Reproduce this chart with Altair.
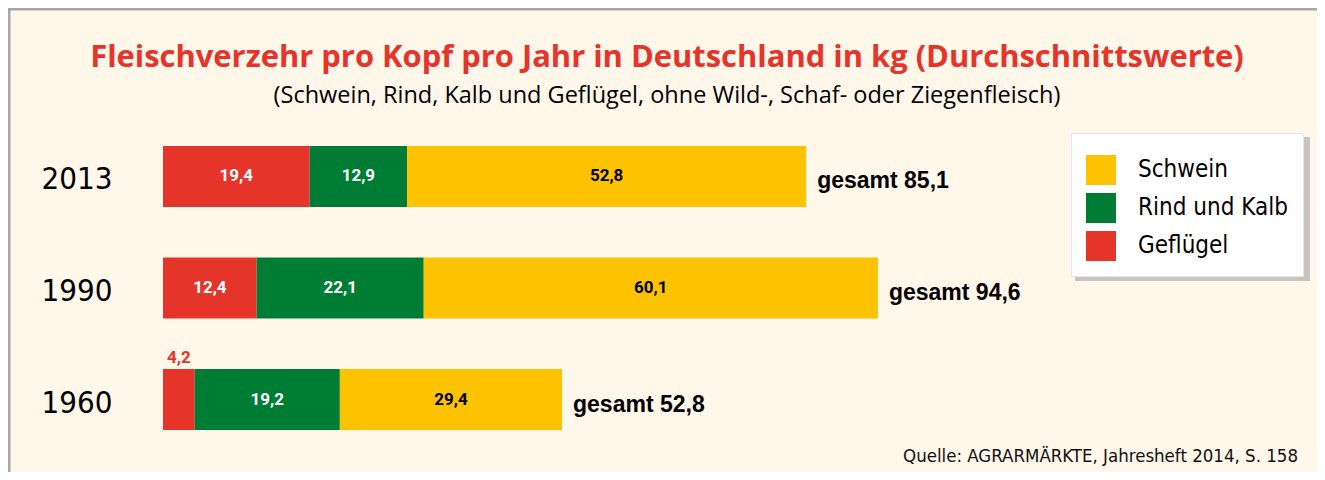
import altair as alt
import pandas as pd

# ---- data ----
years = ["2013", "1990", "1960"]
categories = ["Geflügel", "Rind und Kalb", "Schwein"]
gefluegel = [19.4, 12.4, 4.2]
rind_kalb = [12.9, 22.1, 19.2]
schwein = [52.8, 60.1, 29.4]
totals = [85.1, 94.6, 52.8]
legend_order = ["Schwein", "Rind und Kalb", "Geflügel"]
colors = ["#FDC300", "#007D34", "#E5352A"]
source_text = "Quelle: AGRARMÄRKTE, Jahresheft 2014, S. 158"
title_text = "Fleischverzehr pro Kopf pro Jahr in Deutschland in kg (Durchschnittswerte)"
subtitle_text = "(Schwein, Rind, Kalb und Geflügel, ohne Wild-, Schaf- oder Ziegenfleisch)"


def de(v):
    return f"{v:.1f}".replace(".", ",")


rows = []
for i, y in enumerate(years):
    start = 0.0
    for k, (cat, vals) in enumerate(zip(categories, [gefluegel, rind_kalb, schwein])):
        v = vals[i]
        rows.append(dict(year=y, cat=cat, value=v, start=start, end=start + v,
                         mid=start + v / 2, label=de(v), order=k,
                         tcolor="#000000" if cat == "Schwein" else "#FFFFFF",
                         small=v < 6))
        start += v
df = pd.DataFrame(rows)
tot = pd.DataFrame(dict(year=years, total=totals,
                        label=["gesamt " + de(t) for t in totals]))

COND = "DejaVu Sans Condensed, DejaVu Sans, sans-serif"
VALF = "Roboto, sans-serif"
WIDE = "Liberation Sans, Arial, sans-serif"

W, H = 1154, 284
xscale = alt.Scale(domain=[0, 152.7], nice=False, zero=False)
yscale = alt.Scale(domain=years, paddingInner=0.453, paddingOuter=0)

base = alt.Chart(df)

bars = base.mark_rect().encode(
    x=alt.X("start:Q", scale=xscale, axis=None),
    x2="end:Q",
    y=alt.Y("year:N", scale=yscale, sort=years,
            axis=alt.Axis(title=None, domain=False, ticks=False, labelFont=COND,
                          labelFontSize=31, labelColor="#000", labelAlign="right",
                          labelPadding=51, labelOffset=4)),
    color=alt.Color("cat:N", scale=alt.Scale(domain=legend_order, range=colors),
                    legend=alt.Legend(title=" ", titleFontSize=2, titlePadding=5,
                                      orient="none", legendX=908, legendY=-13,
                                      direction="vertical", symbolType="square",
                                      symbolSize=900, symbolStrokeWidth=0,
                                      labelFont=COND, labelFontSize=24,
                                      labelColor="#000", labelOffset=22,
                                      labelLimit=300,
                                      rowPadding=8, padding=15, fillColor="#FFFFFF",
                                      strokeColor="#E6E6E6",
                                      symbolOpacity=1)),
    order="order:Q",
)

inner = base.transform_filter("!datum.small").mark_text(
    font=VALF, fontSize=17, fontWeight="bold", baseline="middle", align="center"
).encode(
    x=alt.X("mid:Q", scale=xscale),
    y=alt.Y("year:N", scale=yscale, sort=years),
    text="label:N",
    color=alt.Color("tcolor:N", scale=None),
)

outer = base.transform_filter("datum.small").mark_text(
    font=VALF, fontSize=17, fontWeight="bold", baseline="alphabetic", align="center",
    color="#E5352A", dy=-6
).encode(
    x=alt.X("mid:Q", scale=xscale),
    y=alt.Y("year:N", scale=yscale, sort=years, bandPosition=0),
    text="label:N",
)

total_text = alt.Chart(tot).mark_text(
    font=WIDE, fontSize=23, fontWeight="bold", baseline="middle", align="left",
    dx=11, dy=5, color="#000"
).encode(
    x=alt.X("total:Q", scale=xscale),
    y=alt.Y("year:N", scale=yscale, sort=years),
    text="label:N",
)

source = alt.Chart(pd.DataFrame(dict(t=[source_text]))).mark_text(
    font=COND, fontSize=18.5, align="right", baseline="alphabetic", color="#111"
).encode(x=alt.value(1135), y=alt.value(316), text="t:N")

shadow = alt.Chart(pd.DataFrame(dict(a=[0]))).mark_rect(
    color="#999999", opacity=0.55
).encode(x=alt.value(912), x2=alt.value(1147), y=alt.value(-9), y2=alt.value(135))

border = alt.Chart(pd.DataFrame(dict(a=[0]))).mark_rect(
    fill="transparent", stroke="#A8A8A8", strokeWidth=3
).encode(x=alt.value(-154), x2=alt.value(1200), y=alt.value(-137), y2=alt.value(400))

chart = alt.layer(border, shadow, bars, inner, outer, total_text, source).properties(
    width=W, height=H,
    title=alt.TitleParams(text=title_text, subtitle=subtitle_text, anchor="middle",
                          dx=-73, font="Open Sans", fontSize=30.9, fontWeight="bold",
                          color="#E5352A", subtitleFont="Open Sans",
                          subtitleFontSize=23.5, subtitleColor="#000",
                          subtitlePadding=10, offset=-101),
    autosize=alt.AutoSizeParams(type="none"),
    padding={"left": 155, "top": 138, "right": 0, "bottom": 42},
    background="#FEF7EA",
).configure_view(stroke=None)

chart.save("out.html", embed_options={"renderer": "svg", "actions": False})
